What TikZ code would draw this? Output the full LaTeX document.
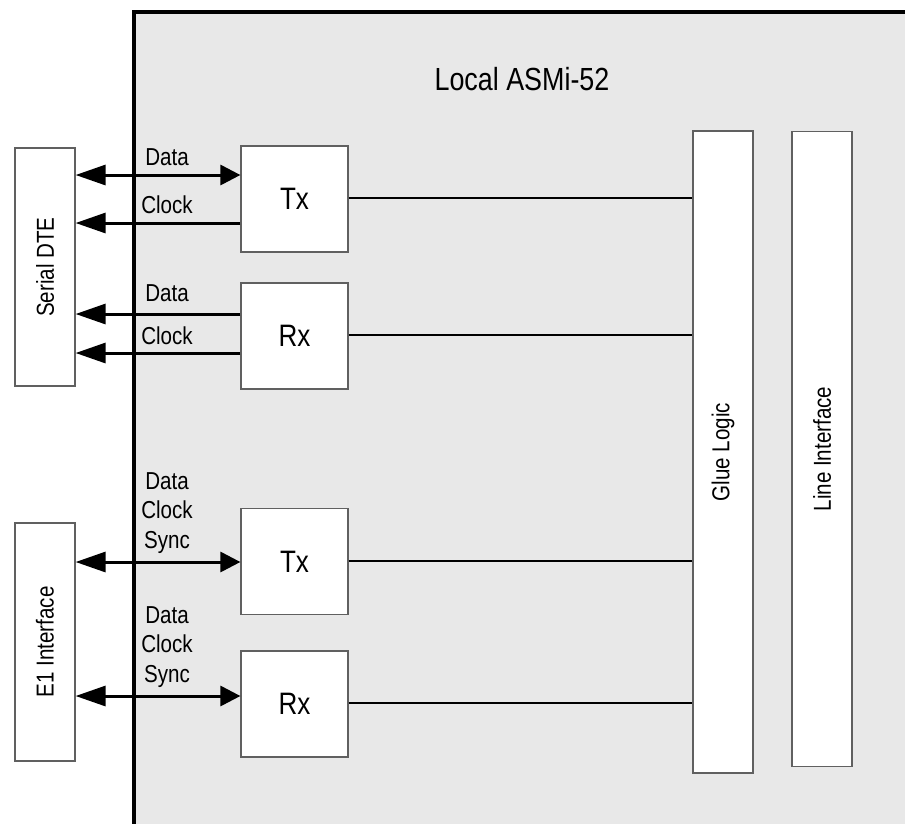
\documentclass[tikz,border=0pt]{standalone}
\usepackage{fontspec}
\setmainfont{Liberation Sans}[FakeStretch=0.84]
\usetikzlibrary{arrows.meta}
\definecolor{panelgray}{HTML}{E8E8E8}
\definecolor{boxline}{HTML}{606060}
\begin{document}
\begin{tikzpicture}[x=1pt,y=-1pt,
  blockbox/.style={draw=boxline,line width=1.2pt,fill=white,inner sep=0pt,anchor=center},
  sidebox/.style={blockbox,minimum width=238pt,minimum height=60pt,rotate=90,font=\fontsize{24.5}{28}\selectfont},
  unitbox/.style={blockbox,minimum width=107pt,minimum height=106pt,font=\fontsize{31}{36}\selectfont},
  tallbox/.style={blockbox,minimum height=60pt,rotate=90,font=\fontsize{24.5}{28}\selectfont},
  sig/.style={line width=3pt},
  tipL/.style={-{Triangle[length=30pt,width=20pt]}},
  tipR/.style={{Triangle[length=30pt,width=20pt]}-{Triangle[length=20pt,width=20pt]}},
  link/.style={line width=2pt},
  lbl/.style={font=\fontsize{24.5}{28}\selectfont,inner sep=0pt,anchor=center,text height=17.5pt,text depth=0pt}]
\useasboundingbox (0,0) rectangle (905,823);
% panel
\fill[panelgray] (134,12) rectangle (910,830);
\draw[line width=4pt] (134,830) -- (134,12) -- (910,12);
\node[font=\fontsize{32}{36}\selectfont,inner sep=0pt,text height=23pt,text depth=0pt] (title) at (522,79) {Local ASMi-52};
% blocks
\node[sidebox] (sdte) at (45,267) {Serial DTE};
\node[sidebox] (e1) at (45,642) {E1 Interface};
\node[unitbox] (tx1) at (294.5,199) {Tx};
\node[unitbox] (rx1) at (294.5,336) {Rx};
\node[unitbox] (tx2) at (294.5,561.5) {Tx};
\node[unitbox] (rx2) at (294.5,704) {Rx};
\node[tallbox,minimum width=642pt] (glue) at (723,452) {Glue Logic};
\node[tallbox,minimum width=635pt] (line) at (822,449) {Line Interface};
% signals
\draw[sig,tipR] (sdte.south |- 0,175) -- (tx1.west |- 0,175);
\draw[sig,tipL] (tx1.west |- 0,223) -- (sdte.south |- 0,223);
\draw[sig,tipL] (rx1.west |- 0,314) -- (sdte.south |- 0,314);
\draw[sig,tipL] (rx1.west |- 0,353) -- (sdte.south |- 0,353);
\draw[sig,tipR] (e1.south |- 0,562) -- (tx2.west |- 0,562);
\draw[sig,tipR] (e1.south |- 0,696) -- (rx2.west |- 0,696);
% labels
\node[lbl] (l1) at (167,157) {Data};
\node[lbl] (l2) at (167,205) {Clock};
\node[lbl] (l3) at (167,293) {Data};
\node[lbl] (l4) at (167,336) {Clock};
\node[lbl] (l5) at (167,481) {Data};
\node[lbl] (l6) at (167,510) {Clock};
\node[lbl] (l7) at (167,540) {Sync};
\node[lbl] (l8) at (167,615) {Data};
\node[lbl] (l9) at (167,644) {Clock};
\node[lbl] (l10) at (167,674) {Sync};
% links to glue logic
\draw[link] (tx1.east |- 0,198) -- (glue.north |- 0,198);
\draw[link] (rx1.east |- 0,335) -- (glue.north |- 0,335);
\draw[link] (tx2.east |- 0,561) -- (glue.north |- 0,561);
\draw[link] (rx2.east |- 0,703) -- (glue.north |- 0,703);
\end{tikzpicture}
\end{document}
